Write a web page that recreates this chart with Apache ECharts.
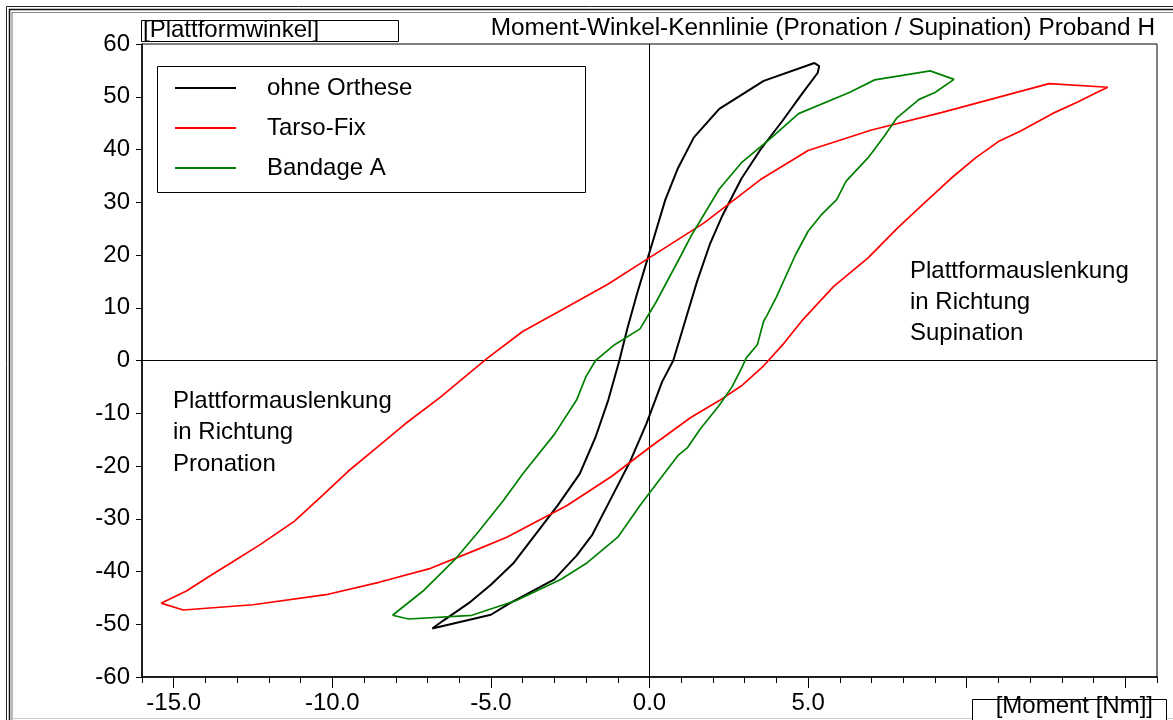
<!DOCTYPE html>
<html>
<head>
<meta charset="utf-8">
<script src="https://cdn.jsdelivr.net/npm/echarts@6/dist/echarts.min.js"></script>
<style>
  html, body { margin: 0; padding: 0; background: #fff; }
  #chart { width: 1173px; height: 720px; }
</style>
</head>
<body>
<div id="chart"></div>
<script>
// Moment [Nm] vs. platform angle, one closed hysteresis loop per condition
const ohneOrthese = [
  [-6.85,-50.8],[-5.0,-48.2],[-4.4,-46.0],[-3.0,-41.5],[-2.3,-37.0],[-1.8,-33.0],[-1.2,-26.0],
  [-0.6,-19.0],[-0.1,-12.0],[0.4,-4.0],[0.75,0],[1.1,7],[1.5,15],[1.9,22],[2.3,27.5],[2.9,34.5],
  [3.5,40],[4.2,45.5],[4.8,50.5],[5.3,54.5],[5.35,55.8],[5.2,56.4],
  [3.6,53.0],[2.2,47.7],[1.4,42.3],[0.9,36.5],[0.5,30.5],[0.2,24.5],[-0.1,18.5],[-0.4,12.5],
  [-0.7,6.0],[-0.95,0],[-1.3,-7.5],[-1.7,-14.5],[-2.2,-21.5],[-2.9,-27.5],[-3.6,-33.0],
  [-4.3,-38.5],[-5.0,-42.5],[-5.7,-46.0],[-6.5,-49.3],[-6.85,-50.8]
];
const tarsoFix = [
  [-15.4,-46.0],[-14.7,-47.3],[-12.5,-46.3],[-10.2,-44.4],[-8.5,-42.0],[-6.9,-39.4],[-5.5,-36.0],
  [-4.5,-33.5],[-2.6,-27.5],[-1.2,-22.0],[0,-16.5],[1.3,-10.8],[2.2,-7.6],[2.9,-4.8],[3.6,-1.0],
  [4.2,3.0],[4.8,7.5],[5.8,14.0],[6.9,19.5],[7.8,25.0],[8.6,29.5],[9.5,34.5],[10.3,38.5],
  [11.0,41.5],[11.7,43.5],[12.7,46.8],[13.5,49.0],[14.1,50.8],[14.45,51.8],
  [12.6,52.5],[9.2,47.0],[7.0,43.7],[5.0,39.8],[3.5,34.3],[1.7,26.0],[0,19.5],[-1.3,14.5],
  [-2.8,9.5],[-4.0,5.5],[-5.1,0.5],[-5.7,-2.5],[-6.6,-7.0],[-7.7,-12.0],[-8.6,-16.5],
  [-9.5,-21.0],[-10.3,-25.5],[-11.2,-30.5],[-12.3,-35.0],[-13.1,-38.0],[-13.9,-41.0],
  [-14.6,-43.7],[-15.4,-46.0]
];
const bandageA = [
  [-8.1,-48.3],[-7.6,-49.0],[-5.6,-48.3],[-4.2,-45.5],[-2.8,-41.5],[-2.0,-38.5],[-1.0,-33.5],
  [-0.3,-27.5],[0.2,-23.5],[0.9,-18.0],[1.2,-16.5],[1.6,-13.0],[2.2,-8.5],[2.6,-5.0],[2.9,-1.5],
  [3.05,0.5],[3.4,3.0],[3.6,7.5],[3.7,8.5],[4.0,12.0],[4.6,20.0],[5.0,24.5],[5.4,27.5],
  [5.9,30.5],[6.2,34.0],[6.9,38.5],[7.4,42.5],[7.8,46.0],[8.5,49.5],[9.0,50.8],[9.6,53.3],
  [8.85,54.9],[7.1,53.2],[6.3,50.8],[4.7,46.8],[3.8,42.0],[2.9,37.5],[2.2,32.5],[1.5,25.5],
  [1.3,23.5],[1.0,20.0],[0.6,15.5],[0.2,11.0],[-0.3,6.0],[-1.1,3.0],[-1.6,0.5],[-1.7,0],
  [-2.0,-3.0],[-2.3,-7.5],[-3.0,-14.0],[-4.0,-21.5],[-4.6,-26.5],[-5.4,-32.5],[-6.1,-37.5],
  [-7.1,-43.5],[-8.1,-48.3]
];
const seriesNames = ['ohne Orthese', 'Tarso-Fix', 'Bandage A'];
const xLabelValues = [-15, -10, -5, 0, 5];
const xMajorTicks = [-15, -10, -5, 0, 5, 10, 15];

const FONT = '"Liberation Sans", Arial, sans-serif';
const font24 = '24px ' + FONT;

const chart = echarts.init(document.getElementById('chart'), null, { renderer: 'canvas' });

function lineSeries(name, data, color, width, extra) {
  return Object.assign({
    name: name,
    type: 'line',
    data: data,
    symbol: 'none',
    showSymbol: false,
    smooth: false,
    silent: true,
    lineStyle: { color: color, width: width },
    itemStyle: { color: color },
    z: 3
  }, extra || {});
}

const option = {
  animation: false,
  backgroundColor: '#fff',
  grid: {
    left: 142, right: 16, top: 44, bottom: 43,
    show: true, borderColor: '#000', borderWidth: 1, backgroundColor: 'transparent'
  },
  xAxis: [
    {
      type: 'value', min: -16, max: 16, interval: 1,
      axisLine: { show: true, onZero: false, lineStyle: { color: '#000', width: 1.5 } },
      axisTick: { show: true, length: 6, lineStyle: { color: '#000', width: 1 } },
      axisLabel: {
        show: true, customValues: xLabelValues, margin: 14,
        color: '#000', fontFamily: FONT, fontSize: 24,
        formatter: v => v.toFixed(1)
      },
      splitLine: { show: false }
    },
    {
      type: 'value', min: -16, max: 16, position: 'bottom',
      axisLine: { show: false, onZero: false },
      axisTick: { show: true, customValues: xMajorTicks, length: 11, lineStyle: { color: '#000', width: 1 } },
      axisLabel: { show: false },
      splitLine: { show: false }
    }
  ],
  yAxis: {
    type: 'value', min: -60, max: 60, interval: 10,
    axisLine: { show: true, onZero: false, lineStyle: { color: '#000', width: 1.5 } },
    axisTick: { show: true, length: 6, lineStyle: { color: '#000', width: 1 } },
    axisLabel: { color: '#000', fontFamily: FONT, fontSize: 24, margin: 12 },
    splitLine: { show: false }
  },
  legend: {
    orient: 'vertical',
    left: 175, top: 76,
    padding: 0,
    icon: 'rect',
    itemWidth: 61, itemHeight: 2, itemGap: 16,
    data: seriesNames,
    selectedMode: false,
    textStyle: { color: '#000', fontFamily: FONT, fontSize: 24, lineHeight: 24, padding: [0, 0, 0, 26] }
  },
  series: [
    lineSeries(seriesNames[0], ohneOrthese, '#000000', 2, {
      markLine: {
        silent: true, symbol: 'none', animation: false,
        label: { show: false },
        lineStyle: { color: '#000', width: 1, type: 'solid' },
        data: [{ xAxis: 0 }, { yAxis: 0 }],
        z: 1
      }
    }),
    lineSeries(seriesNames[1], tarsoFix, '#ff0000', 1.7),
    lineSeries(seriesNames[2], bandageA, '#008000', 1.7)
  ],
  graphic: [
    // window-style double frame
    { type: 'rect', shape: { x: 6.5, y: 6.5, width: 1200, height: 740 }, style: { fill: 'none', stroke: '#222', lineWidth: 1 }, z: 10 },
    { type: 'rect', shape: { x: 9.5, y: 9.5, width: 1200, height: 740 }, style: { fill: 'none', stroke: '#111', lineWidth: 1.5 }, z: 10 },
    { type: 'rect', shape: { x: 12, y: 12.5, width: 1200, height: 740 }, style: { fill: 'none', stroke: '#888', lineWidth: 1.2 }, z: 10 },
    { type: 'line', shape: { x1: 12, y1: 718.5, x2: 1173, y2: 718.5 }, style: { stroke: '#ccc', lineWidth: 1 }, z: 10 },
    // legend frame
    { type: 'rect', shape: { x: 157.5, y: 66.5, width: 428, height: 126 }, style: { fill: 'none', stroke: '#000', lineWidth: 1 }, z: 10 },
    // y-axis caption box
    { type: 'rect', shape: { x: 141.5, y: 20.5, width: 257, height: 21 }, style: { fill: '#fff', stroke: '#000', lineWidth: 1 }, z: 10 },
    { type: 'text', x: 143, y: 30, style: { text: '[Plattformwinkel]', font: font24, fill: '#000', textAlign: 'left', textVerticalAlign: 'middle' }, z: 11 },
    // title
    { type: 'text', x: 1155, y: 28, style: { text: 'Moment-Winkel-Kennlinie (Pronation / Supination) Proband H', font: '24.4px ' + FONT, fill: '#000', textAlign: 'right', textVerticalAlign: 'middle' }, z: 11 },
    // x-axis caption box
    { type: 'rect', shape: { x: 972.5, y: 699.5, width: 194, height: 40 }, style: { fill: '#fff', stroke: '#000', lineWidth: 1 }, z: 10 },
    { type: 'text', x: 1153, y: 706, style: { text: '[Moment [Nm]]', font: font24, fill: '#000', textAlign: 'right', textVerticalAlign: 'middle' }, z: 11 },
    // region annotations
    { type: 'text', x: 910, y: 271, style: { text: 'Plattformauslenkung', font: font24, fill: '#000', textAlign: 'left', textVerticalAlign: 'middle' }, z: 11 },
    { type: 'text', x: 910, y: 302, style: { text: 'in Richtung', font: font24, fill: '#000', textAlign: 'left', textVerticalAlign: 'middle' }, z: 11 },
    { type: 'text', x: 910, y: 333, style: { text: 'Supination', font: font24, fill: '#000', textAlign: 'left', textVerticalAlign: 'middle' }, z: 11 },
    { type: 'text', x: 173, y: 401, style: { text: 'Plattformauslenkung', font: font24, fill: '#000', textAlign: 'left', textVerticalAlign: 'middle' }, z: 11 },
    { type: 'text', x: 173, y: 432, style: { text: 'in Richtung', font: font24, fill: '#000', textAlign: 'left', textVerticalAlign: 'middle' }, z: 11 },
    { type: 'text', x: 173, y: 464, style: { text: 'Pronation', font: font24, fill: '#000', textAlign: 'left', textVerticalAlign: 'middle' }, z: 11 }
  ]
};

chart.setOption(option);
</script>
</body>
</html>
